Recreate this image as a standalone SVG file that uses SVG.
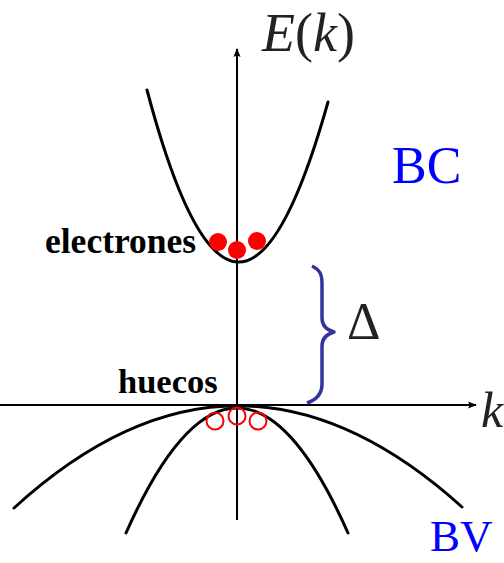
<svg xmlns="http://www.w3.org/2000/svg" width="504" height="563" viewBox="0 0 504 563">
<style>
.ax{stroke:#000;stroke-width:2;fill:none}
.band{stroke:#000;stroke-width:3;fill:none;stroke-linecap:round}
.el{fill:#ff0000}
.ho{fill:none;stroke:#ff0000;stroke-width:2}
.s{font-family:'Liberation Serif','Times New Roman',Times,'DejaVu Serif',serif}
</style>
<defs>
<marker id="ah" viewBox="0 0 10 10" refX="9" refY="5" markerWidth="9" markerHeight="9" markerUnits="userSpaceOnUse" orient="auto">
<path d="M0,1 L10,5 L0,9 L2,5 Z" fill="#000"/>
</marker>
</defs>
<g id="axes">
<line class="ax" x1="237" y1="520" x2="237" y2="49" marker-end="url(#ah)"/>
<line class="ax" x1="0" y1="405" x2="476" y2="405" marker-end="url(#ah)"/>
</g>
<g id="labels-axes" fill="#222">
<text class="s" x="262" y="51" font-size="54" font-style="italic">E<tspan font-style="normal">(</tspan>k<tspan font-style="normal">)</tspan></text>
<text class="s" x="481" y="427" font-size="50" font-style="italic">k</text>
</g>
<g id="BC">
<path class="band" d="M147,90 Q236.5,428 328,102"/>
<text class="s" x="392" y="183" font-size="52" fill="#0000ff">BC</text>
</g>
<g id="electrones">
<circle class="el" cx="218" cy="242" r="9"/>
<circle class="el" cx="237" cy="250" r="9"/>
<circle class="el" cx="257" cy="241" r="9"/>
<text class="s" x="45" y="253" font-size="35.5" font-weight="bold" fill="#000">electrones</text>
</g>
<g id="BV">
<path class="band" d="M14,508 Q237,304 462,507"/>
<path class="band" d="M126,533 Q237,283 348,533"/>
<text class="s" x="430" y="551" font-size="45" fill="#0000ff">BV</text>
</g>
<g id="huecos">
<circle class="ho" cx="215" cy="421" r="8.5"/>
<circle class="ho" cx="237" cy="416" r="8.5"/>
<circle class="ho" cx="258" cy="421" r="8.5"/>
<text class="s" x="118" y="393" font-size="34.5" font-weight="bold" fill="#000">huecos</text>
</g>
<g id="gap">
<path d="M312,266 C320,270 322,274 322,284 L322,318 C322,326 327,330 334,332 C327,334 322,338 322,346 L322,384 C322,394 316,400 307,403" fill="none" stroke="#3333a0" stroke-width="3.5" stroke-linejoin="round"/>
<text class="s" x="347" y="339" font-size="52" fill="#222">Δ</text>
</g>
</svg>
